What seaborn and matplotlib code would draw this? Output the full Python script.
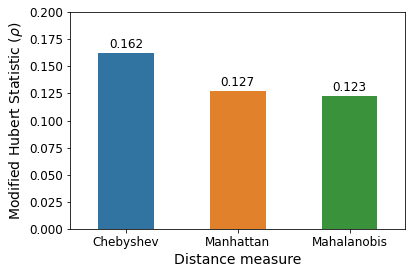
import pandas as pd
import seaborn as sns
import matplotlib.pyplot as plt

# === Data ===
measures = ['Chebyshev', 'Manhattan', 'Mahalanobis']
hubert = [0.162, 0.127, 0.123]

df = pd.DataFrame({'measure': measures, 'hubert': hubert})

# === Plot ===
fig, ax = plt.subplots(figsize=(412 / 72, 274 / 72), dpi=72)
sns.barplot(data=df, x='measure', y='hubert', hue='measure', width=0.5,
            saturation=0.75, legend=False, ax=ax)

for container in ax.containers:
    ax.bar_label(container, fmt='%.3f', fontsize=12, padding=2)

ax.set_ylim(0, 0.2)
ax.set_yticks([i * 0.025 for i in range(9)])
ax.set_yticklabels([f'{i * 0.025:.3f}' for i in range(9)])
ax.set_xlabel('Distance measure', fontsize=14)
ax.set_ylabel(r'Modified Hubert Statistic ($\rho$)', fontsize=14)
ax.tick_params(labelsize=12)

fig.subplots_adjust(left=0.170, right=0.984, top=0.957, bottom=0.163)
fig.savefig('out.png', dpi=72)
